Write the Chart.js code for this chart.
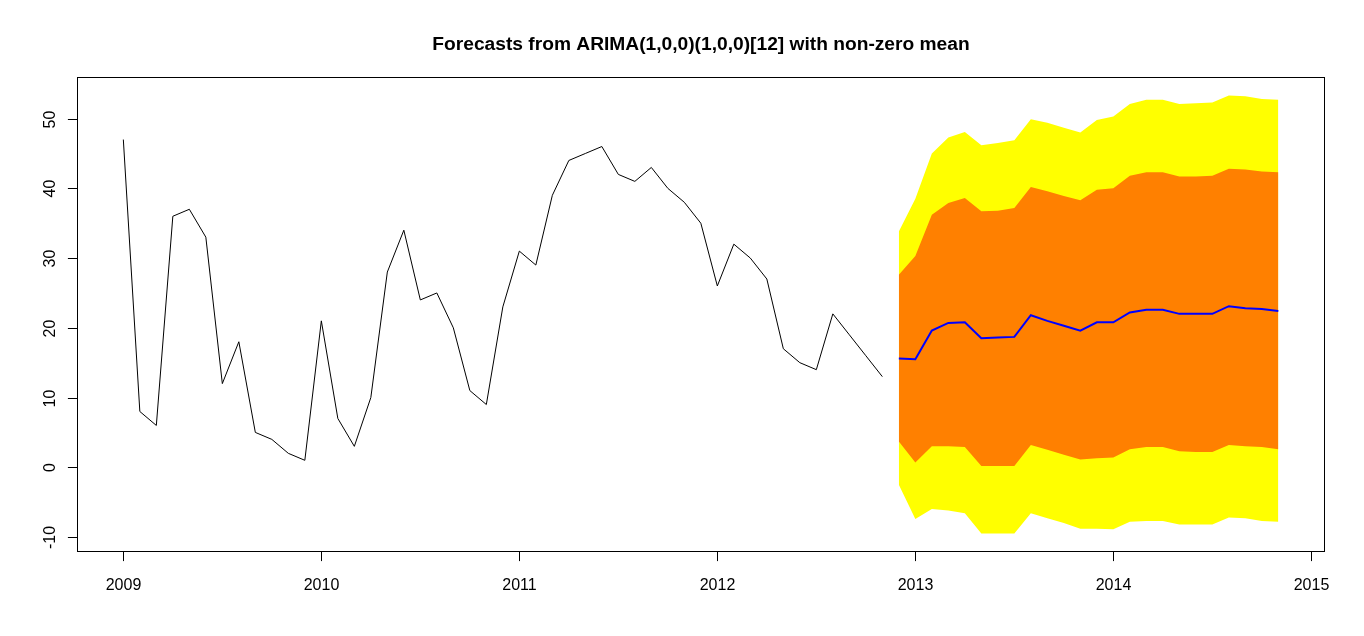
<!DOCTYPE html>
<html>
<head>
<meta charset="utf-8">
<script src="https://cdn.jsdelivr.net/npm/chart.js@4"></script>
<style>
  html, body { margin: 0; padding: 0; background: #fff; }
</style>
</head>
<body>
<canvas id="fcChart" width="1364" height="636"></canvas>
<script>
// monthly series, starting Jan 2009
const histStart = 2009;
const history = [47, 8, 6, 36, 37, 33, 12, 18, 5, 4, 2, 1,
                 21, 7, 3, 10, 28, 34, 24, 25, 20, 11, 9, 23,
                 31, 29, 39, 44, 45, 46, 42, 41, 43, 40, 38, 35,
                 26, 32, 30, 27, 17, 15, 14, 22, 19, 16, 13];

// forecasts, starting Dec 2012
const fcStart = 2012 + 11 / 12;
const fcMean = [15.6, 15.5, 19.6, 20.7, 20.8, 18.5, 18.6, 18.7, 21.8, 21.0, 20.3, 19.6,
                20.8, 20.8, 22.2, 22.6, 22.6, 22.0, 22.0, 22.0, 23.1, 22.8, 22.7, 22.4];
const lo80 = [3.7, 0.7, 3.0, 3.0, 2.9, 0.2, 0.2, 0.2, 3.2, 2.5, 1.8, 1.1,
              1.3, 1.4, 2.6, 2.9, 2.9, 2.3, 2.2, 2.2, 3.2, 3.0, 2.9, 2.6];
const hi80 = [27.6, 30.3, 36.2, 37.9, 38.6, 36.7, 36.8, 37.2, 40.2, 39.6, 38.9, 38.3,
              39.8, 40.0, 41.8, 42.3, 42.3, 41.7, 41.7, 41.8, 42.8, 42.7, 42.4, 42.3];
const lo95 = [-2.5, -7.4, -6.0, -6.2, -6.6, -9.5, -9.5, -9.5, -6.6, -7.3, -8.0, -8.8,
              -8.8, -8.9, -7.8, -7.7, -7.7, -8.2, -8.2, -8.2, -7.2, -7.3, -7.7, -7.8];
const hi95 = [33.8, 38.5, 45.0, 47.3, 48.1, 46.2, 46.5, 46.9, 49.9, 49.4, 48.7, 48.0,
              49.8, 50.3, 52.1, 52.7, 52.7, 52.1, 52.2, 52.3, 53.3, 53.2, 52.8, 52.7];

const xTicks = [2009, 2010, 2011, 2012, 2013, 2014, 2015];
const yTicks = [-10, 0, 10, 20, 30, 40, 50];
const title = 'Forecasts from ARIMA(1,0,0)(1,0,0)[12] with non-zero mean';

const toPts = (vals, start) => vals.map((v, i) => ({ x: start + i / 12, y: v }));

const FONT = '"Liberation Sans", Arial, sans-serif';

// R style box, ticks and labels, drawn from the chart's own scales
const rFrame = {
    id: 'rFrame',
    afterDraw(chart) {
        const { ctx, chartArea: a, scales: { x, y } } = chart;
        ctx.save();
        ctx.strokeStyle = '#000';
        ctx.lineWidth = 1;
        const L = Math.round(a.left) + 0.5, R = Math.round(a.right) - 0.5;
        const T = Math.round(a.top) + 0.5, B = Math.round(a.bottom) - 0.5;
        ctx.strokeRect(L, T, R - L, B - T);

        ctx.fillStyle = '#000';
        ctx.font = '16px ' + FONT;
        ctx.textAlign = 'center';
        ctx.textBaseline = 'alphabetic';
        xTicks.forEach(t => {
            const px = Math.round(x.getPixelForValue(t)) + 0.5;
            ctx.beginPath();
            ctx.moveTo(px, B);
            ctx.lineTo(px, B + 9.6);
            ctx.stroke();
            ctx.fillText(String(t), px, 590);
        });
        yTicks.forEach(t => {
            const py = Math.round(y.getPixelForValue(t)) + 0.5;
            ctx.beginPath();
            ctx.moveTo(L, py);
            ctx.lineTo(L - 9.6, py);
            ctx.stroke();
            ctx.save();
            ctx.translate(54.5, py);
            ctx.rotate(-Math.PI / 2);
            ctx.fillText(String(t), 0, 0);
            ctx.restore();
        });

        ctx.font = 'bold 19.2px ' + FONT;
        ctx.fillText(title, (a.left + a.right) / 2, 50);
        ctx.restore();
    }
};

const none = 'rgba(0,0,0,0)';
const ctxFc = document.getElementById('fcChart').getContext('2d');
const fcChart = new Chart(ctxFc, {
    type: 'line',
    data: {
        datasets: [
            { label: 'hi95', data: toPts(hi95, fcStart), borderColor: none, borderWidth: 0,
              backgroundColor: '#FFFF00', fill: 1, pointRadius: 0, order: 5 },
            { label: 'lo95', data: toPts(lo95, fcStart), borderColor: none, borderWidth: 0,
              fill: false, pointRadius: 0, order: 5 },
            { label: 'hi80', data: toPts(hi80, fcStart), borderColor: none, borderWidth: 0,
              backgroundColor: '#FF8000', fill: 3, pointRadius: 0, order: 4 },
            { label: 'lo80', data: toPts(lo80, fcStart), borderColor: none, borderWidth: 0,
              fill: false, pointRadius: 0, order: 4 },
            { label: 'mean', data: toPts(fcMean, fcStart), borderColor: '#0000FF', borderWidth: 2,
              fill: false, pointRadius: 0, order: 1 },
            { label: 'history', data: toPts(history, histStart), borderColor: '#000000', borderWidth: 1,
              fill: false, pointRadius: 0, order: 1 }
        ]
    },
    options: {
        responsive: false,
        animation: false,
        devicePixelRatio: 1,
        layout: { padding: { left: 77, right: 39, top: 77, bottom: 84 } },
        elements: { line: { tension: 0 } },
        plugins: {
            legend: { display: false },
            tooltip: { enabled: false },
            title: { display: false }
        },
        scales: {
            x: { type: 'linear', display: false, min: 2008.766, max: 2015.069 },
            y: { type: 'linear', display: false, min: -12.15, max: 55.97 }
        }
    },
    plugins: [rFrame]
});
</script>
</body>
</html>
